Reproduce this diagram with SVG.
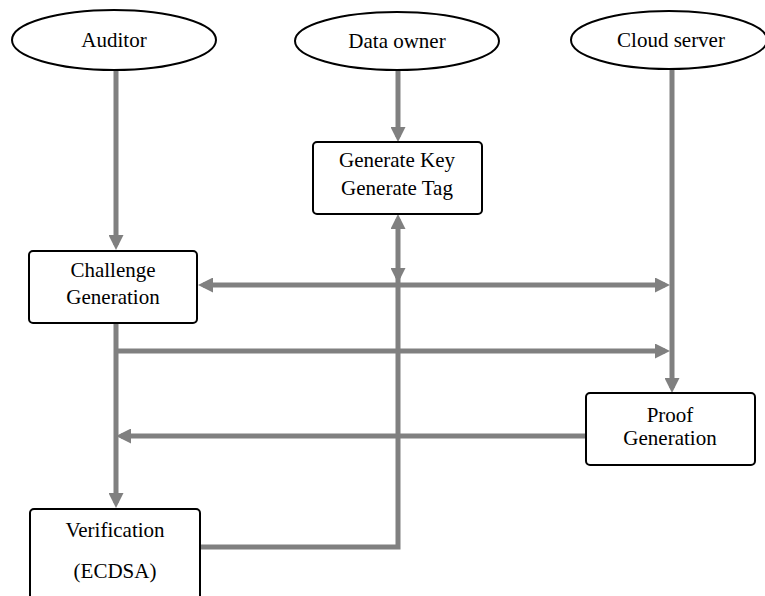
<svg xmlns="http://www.w3.org/2000/svg" width="765" height="596" viewBox="0 0 765 596">
<style>
.node{fill:#fff;stroke:#000;stroke-width:2}
.t{font-family:'Liberation Serif','Times New Roman',serif;font-size:21px;fill:#000;text-anchor:middle}
.c{fill:none;stroke:#808080;stroke-width:5}
</style>
<defs>
<marker id="ah" viewBox="0 0 15 15" refX="10" refY="7.5" markerWidth="15" markerHeight="15" markerUnits="userSpaceOnUse" orient="auto-start-reverse">
<path d="M0,0 L15,7.5 L0,15 z" fill="#808080"/>
</marker>
</defs>
<rect width="765" height="596" fill="#fff"/>
<g id="connectors">
<path class="c" d="M116,70 V245" marker-end="url(#ah)"/>
<path class="c" d="M398,70 V137" marker-end="url(#ah)"/>
<path class="c" d="M672,70 V388" marker-end="url(#ah)"/>
<path class="c" d="M203,285 H665" marker-start="url(#ah)" marker-end="url(#ah)"/>
<path class="c" d="M116,323 V503" marker-end="url(#ah)"/>
<path class="c" d="M116,351 H665" marker-end="url(#ah)"/>
<path class="c" d="M586,436 H121" marker-end="url(#ah)"/>
<path class="c" d="M200,547 H398 V219" marker-end="url(#ah)"/>
<path class="c" d="M398,270 V278" marker-end="url(#ah)"/>
</g>
<g id="auditor">
<ellipse class="node" cx="114" cy="40" rx="102" ry="30"/>
<text class="t" x="114" y="47">Auditor</text>
</g>
<g id="data-owner">
<ellipse class="node" cx="397" cy="41" rx="102" ry="29"/>
<text class="t" x="397" y="48">Data owner</text>
</g>
<g id="cloud-server">
<ellipse class="node" cx="669" cy="40" rx="98" ry="29"/>
<text class="t" x="671" y="47">Cloud server</text>
</g>
<g id="generate">
<rect class="node" x="313" y="142" width="169" height="72" rx="4"/>
<text class="t" x="397" y="167">Generate Key</text>
<text class="t" x="397" y="195">Generate Tag</text>
</g>
<g id="challenge">
<rect class="node" x="29" y="251" width="168" height="72" rx="4"/>
<text class="t" x="113" y="277">Challenge</text>
<text class="t" x="113" y="304">Generation</text>
</g>
<g id="proof">
<rect class="node" x="586" y="393" width="169" height="72" rx="4"/>
<text class="t" x="670" y="422">Proof</text>
<text class="t" x="670" y="445">Generation</text>
</g>
<g id="verification">
<rect class="node" x="30" y="509" width="170" height="100" rx="4"/>
<text class="t" x="115" y="537">Verification</text>
<text class="t" x="115" y="578">(ECDSA)</text>
</g>
</svg>
